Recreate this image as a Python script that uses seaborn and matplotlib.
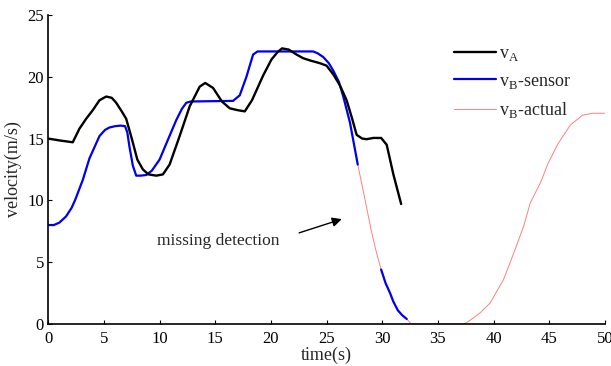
import matplotlib
matplotlib.use("Agg")
import matplotlib.pyplot as plt
import pandas as pd
import seaborn as sns

# vehicle A speed
t_a = [0, 1.0, 2.2, 2.8, 3.4, 4.0, 4.6, 5.2, 5.7, 6.1, 6.6, 7.0, 7.5, 8.0, 8.5, 9.0,
       9.7, 10.3, 10.9, 11.8, 12.7, 13.6, 14.1, 14.8, 15.6, 16.3, 17.0, 17.65, 18.3,
       19.3, 20.05, 20.6, 21.0, 21.6, 22.3, 22.9, 23.6, 24.4, 25.0, 25.6, 26.2, 26.8,
       27.3, 27.7, 28.2, 28.6, 29.2, 29.9, 30.4, 31.0, 31.7]
v_a = [15.0, 14.85, 14.7, 15.8, 16.6, 17.3, 18.1, 18.4, 18.3, 17.9, 17.2, 16.6, 15.0,
       13.3, 12.5, 12.1, 12.0, 12.1, 12.9, 15.2, 17.6, 19.2, 19.5, 19.1, 18.0, 17.45,
       17.3, 17.2, 18.1, 20.1, 21.4, 22.0, 22.3, 22.2, 21.8, 21.5, 21.3, 21.1, 20.9,
       20.2, 19.3, 18.1, 16.6, 15.3, 15.0, 14.95, 15.05, 15.05, 14.5, 12.1, 9.7]

# vehicle B as seen by the sensor (lost between ~27.8 s and ~29.9 s)
t_b1 = [0, 0.5, 1.0, 1.6, 2.1, 2.4, 3.1, 3.7, 4.2, 4.6, 5.1, 5.5, 6.0, 6.5, 6.9, 7.1,
        7.3, 7.6, 7.9, 8.3, 8.8, 9.3, 10.0, 10.7, 11.5, 12.0, 12.4, 12.8, 16.6, 17.2,
        17.8, 18.4, 18.8, 23.8, 24.2, 24.7, 25.2, 25.6, 26.1, 26.5, 27.1, 27.8]
v_b1 = [8.0, 8.0, 8.2, 8.7, 9.4, 10.0, 11.65, 13.4, 14.4, 15.2, 15.7, 15.9, 16.0,
        16.05, 16.0, 15.5, 14.3, 12.8, 12.0, 12.0, 12.05, 12.4, 13.3, 14.8, 16.5,
        17.4, 17.9, 18.0, 18.05, 18.5, 20.0, 21.8, 22.05, 22.05, 21.9, 21.6, 21.1,
        20.5, 19.6, 18.4, 16.3, 12.9]
t_b2 = [29.9, 30.3, 30.7, 31.0, 31.4, 31.8, 32.2]
v_b2 = [4.4, 3.3, 2.5, 1.8, 1.1, 0.7, 0.4]

# vehicle B actual speed after the sensor trace
t_b3 = [27.8, 28.4, 29.0, 29.5, 29.9, 30.3, 30.7, 31.0, 31.4, 31.8, 32.2, 32.6,
        37.4, 37.9, 38.8, 39.7, 40.9, 41.8, 42.7, 43.3, 44.2, 44.9, 45.8, 46.9,
        48.0, 48.9, 50.0]
v_b3 = [12.9, 10.3, 7.6, 5.7, 4.4, 3.3, 2.5, 1.8, 1.1, 0.7, 0.4, 0.0,
        0.0, 0.3, 0.9, 1.7, 3.6, 5.7, 7.9, 9.8, 11.4, 13.0, 14.6, 16.1,
        16.9, 17.05, 17.05]

x_ticks = [0, 5, 10, 15, 20, 25, 30, 35, 40, 45, 50]
y_ticks = [0, 5, 10, 15, 20, 25]

sns.set_theme(style="ticks")
plt.rcParams["font.family"] = ["Liberation Serif", "DejaVu Serif"]
plt.rcParams["mathtext.fontset"] = "custom"
plt.rcParams["mathtext.rm"] = "Liberation Serif"
plt.rcParams["xtick.direction"] = "in"
plt.rcParams["ytick.direction"] = "in"

fig = plt.figure(figsize=(6.11, 3.66), dpi=100)
ax = fig.add_axes([0.079, 0.115, 0.911, 0.844])

actual = pd.DataFrame({"t": t_b1 + t_b3, "v": v_b1 + v_b3})
sns.lineplot(data=actual, x="t", y="v", color="#ff8080", lw=0.7, sort=False, ax=ax)
sns.lineplot(x=t_b1, y=v_b1, color="#0000ee", lw=1.6, sort=False, ax=ax)
sns.lineplot(x=t_b2, y=v_b2, color="#0000ee", lw=1.6, sort=False, ax=ax)
sns.lineplot(x=t_a, y=v_a, color="black", lw=1.7, sort=False, ax=ax)

lines = ax.get_lines()
ax.legend([lines[3], lines[1], lines[0]],
          ["v$_\\mathregular{A}$", "v$_\\mathregular{B}$-sensor", "v$_\\mathregular{B}$-actual"],
          loc="upper left", bbox_to_anchor=(0.70, 0.955), frameon=False,
          fontsize=13, handlelength=2.3, handletextpad=0.2, labelspacing=0.52)

ax.annotate("", xy=(26.6, 8.55), xytext=(22.3, 7.3),
            arrowprops=dict(arrowstyle="-|>", color="black", lw=1, mutation_scale=14))
ax.text(9.8, 6.7, "missing detection", fontsize=12.5, va="center", ha="left")

ax.set_xlim(0, 50)
ax.set_ylim(0, 25)
ax.set_xticks(x_ticks)
ax.set_yticks(y_ticks)
ax.tick_params(labelsize=12, length=3, width=0.8, colors="black")
ax.tick_params(axis="x", pad=5)
ax.tick_params(axis="y", pad=3)
ax.set_xlabel("time(s)", fontsize=13, labelpad=0)
ax.set_ylabel("velocity(m/s)", fontsize=13, labelpad=4)
sns.despine(ax=ax)
for s in ax.spines.values():
    s.set_color("black")
    s.set_linewidth(1.2)

fig.savefig("out.png", dpi=100)
